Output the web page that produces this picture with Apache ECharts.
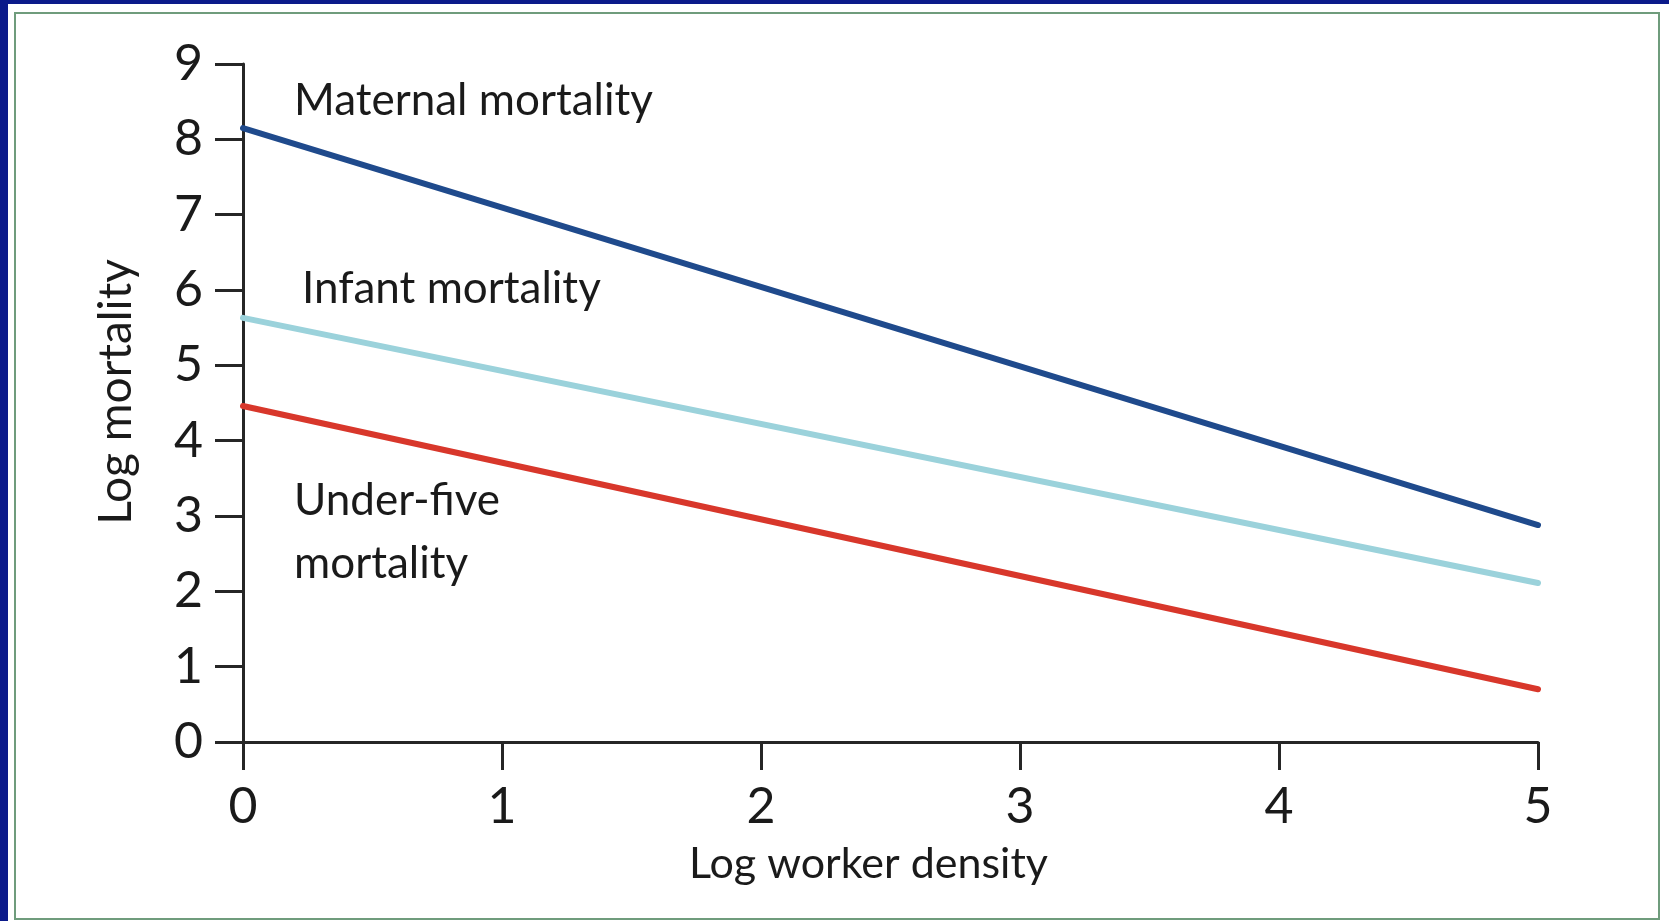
<!DOCTYPE html>
<html>
<head>
<meta charset="utf-8">
<script src="https://cdn.jsdelivr.net/npm/echarts@6/dist/echarts.min.js"></script>
<style>
  html, body { margin: 0; padding: 0; background: #0b1a8a; }
  #chart { width: 1669px; height: 921px; }
</style>
</head>
<body>
<div id="chart"></div>
<script>
// log worker density at the two ends of each fitted line
const xValues = [0, 5];
const maternal = [8.15, 2.88];
const infant = [5.63, 2.11];
const underFive = [4.46, 0.70];

const xTicks = [0, 1, 2, 3, 4, 5];
const yTicks = [0, 1, 2, 3, 4, 5, 6, 7, 8, 9];

const FONT = 'Lato';
const INK = '#1a1a1a';

function pairs(ys) {
    return xValues.map((x, i) => [x, ys[i]]);
}

function line(name, ys, color) {
    return {
        name: name,
        type: 'line',
        data: pairs(ys),
        showSymbol: false,
        silent: true,
        lineStyle: { color: color, width: 6, cap: 'round' }
    };
}

let chart = echarts.init(document.getElementById('chart'));

let axisCommon = {
    type: 'value',
    axisLine: { show: true, lineStyle: { color: '#262626', width: 3 } },
    axisTick: { show: true, inside: false, length: 28, lineStyle: { color: '#262626', width: 3 } },
    splitLine: { show: false },
    axisLabel: { color: INK, fontFamily: FONT, fontSize: 50, margin: 40 }
};

let option = {
    backgroundColor: '#0b1a8a',
    animation: false,
    grid: { left: 243, right: 131, top: 64, bottom: 179, containLabel: false },
    xAxis: Object.assign({}, axisCommon, {
        min: xTicks[0], max: xTicks[xTicks.length - 1], interval: 1,
        name: 'Log worker density',
        nameLocation: 'middle',
        nameGap: 101,
        nameTextStyle: { color: INK, fontFamily: FONT, fontSize: 43, padding: [0, 44, 0, 0] }
    }),
    yAxis: Object.assign({}, axisCommon, {
        min: yTicks[0], max: yTicks[yTicks.length - 1], interval: 1,
        name: 'Log mortality',
        nameLocation: 'middle',
        nameGap: 104,
        nameTextStyle: { color: INK, fontFamily: FONT, fontSize: 46, padding: [0, 0, 0, 22] }
    }),
    graphic: [
        { type: 'rect', z: -10, shape: { x: 8, y: 4, width: 1661, height: 917 }, style: { fill: '#ffffff' } },
        { type: 'rect', z: -9, shape: { x: 15, y: 13, width: 1644, height: 906 }, style: { fill: 'none', stroke: '#6f9c7c', lineWidth: 2 } },
        { type: 'text', left: 294, top: 79, style: { text: 'Maternal mortality', fill: INK, font: '44px Lato' } },
        { type: 'text', left: 302, top: 267, style: { text: 'Infant mortality', fill: INK, font: '44px Lato' } },
        { type: 'text', left: 294, top: 469, style: { text: 'Under-five\nmortality', fill: INK, font: '44px Lato', lineHeight: 63 } }
    ],
    series: [
        line('Maternal mortality', maternal, '#1f4a8c'),
        line('Infant mortality', infant, '#9bd2db'),
        line('Under-five mortality', underFive, '#d8372b')
    ]
};

chart.setOption(option);
</script>
</body>
</html>
